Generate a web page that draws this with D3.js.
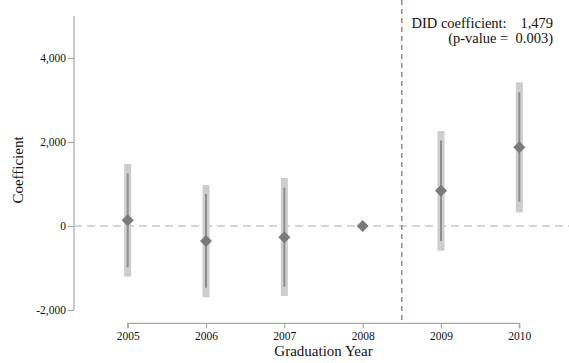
<!DOCTYPE html>
<html>
<head>
<meta charset="utf-8">
<script src="https://cdn.jsdelivr.net/npm/d3@7"></script>
<style>
  html, body { margin: 0; padding: 0; background: #fff; }
  svg { display: block; }
  svg text { font-family: "Liberation Serif", "Times New Roman", serif; }
</style>
</head>
<body>
<svg id="chart" width="569" height="363"></svg>
<script>
// Event-study coefficients by graduation year (2008 is the reference year)
const years = [2005, 2006, 2007, 2008, 2009, 2010];
const coef = [136, -357, -269, 0, 840, 1874];
const ci95Low = [-1207, -1698, -1667, null, -588, 321];
const ci95High = [1476, 976, 1143, null, 2262, 3421];
const ci90Low = [-983, -1469, -1445, null, -357, 579];
const ci90High = [1255, 762, 912, null, 2036, 3183];
const yTicks = [-2000, 0, 2000, 4000];
const didLabel = "DID coefficient:";
const didValue = "1,479";
const pLabel = "(p-value =  0.003)";

const svg = d3.select("#chart");

const x = d3.scaleLinear().domain([2005, 2010]).range([127.7, 519.3]);
const y = d3.scaleLinear().domain([-2000, 4000]).range([310, 58]);

const axisColor = "#a8a8a8";
const fmt = v => d3.format(",")(v).replace("\u2212", "-");

// Y axis
const yAxis = svg.append("g").attr("transform", "translate(74,0)")
  .call(d3.axisLeft(y).tickValues(yTicks).tickSize(6).tickPadding(2).tickFormat(fmt))
  .attr("font-family", "Liberation Serif").attr("font-size", 11.5);
yAxis.select(".domain").remove();
yAxis.append("line").attr("x1", 0).attr("x2", 0)
  .attr("y1", y(-2000)).attr("y2", y(5000))
  .attr("stroke", axisColor).attr("stroke-width", 1.2);
yAxis.selectAll(".tick line").attr("stroke", axisColor).attr("stroke-width", 1.2);
yAxis.selectAll(".tick text").attr("fill", "#111");

// X axis
const xAxis = svg.append("g").attr("transform", "translate(0,323.3)")
  .call(d3.axisBottom(x).tickValues(years).tickSize(5).tickPadding(4).tickFormat(d3.format("d")))
  .attr("font-family", "Liberation Serif").attr("font-size", 11.5);
xAxis.select(".domain").attr("stroke", axisColor).attr("stroke-width", 1.2)
  .attr("d", `M${x(2005)},5V0H${x(2010)}V5`);
xAxis.selectAll(".tick line").attr("stroke", axisColor).attr("stroke-width", 1.2);
xAxis.selectAll(".tick text").attr("fill", "#111");

// Zero reference line
svg.append("line")
  .attr("x1", 74).attr("x2", 569)
  .attr("y1", y(0)).attr("y2", y(0))
  .attr("stroke", "#c8c8c8").attr("stroke-width", 1.3)
  .attr("stroke-dasharray", "8,5");

// Treatment cutoff between 2008 and 2009
svg.append("line")
  .attr("x1", x(2008.5)).attr("x2", x(2008.5))
  .attr("y1", 0).attr("y2", 323)
  .attr("stroke", "#9e4a5a").attr("stroke-width", 1.1)
  .attr("stroke-dasharray", "5,4");

const idx = d3.range(years.length).filter(i => ci95Low[i] !== null);

// 95% intervals: wide light bars
svg.append("g").selectAll("rect").data(idx).join("rect")
  .attr("x", i => x(years[i]) - 3.5)
  .attr("width", 7)
  .attr("y", i => y(ci95High[i]))
  .attr("height", i => y(ci95Low[i]) - y(ci95High[i]))
  .attr("fill", "#cdcdcd");

// 90% intervals: thin darker lines
svg.append("g").selectAll("line").data(idx).join("line")
  .attr("x1", i => x(years[i])).attr("x2", i => x(years[i]))
  .attr("y1", i => y(ci90High[i])).attr("y2", i => y(ci90Low[i]))
  .attr("stroke", "#8f8f8f").attr("stroke-width", 2);

// Point estimates as diamonds
svg.append("g").selectAll("path").data(years).join("path")
  .attr("transform", (d, i) => `translate(${x(d)},${y(coef[i])})`)
  .attr("d", "M0,-6L6,0L0,6L-6,0Z")
  .attr("fill", "#7a7a7a");

// Axis titles
svg.append("text")
  .attr("x", x(2007.5)).attr("y", 356)
  .attr("text-anchor", "middle")
  .style("font-size", "15px").attr("fill", "#111")
  .text("Graduation Year");

svg.append("text")
  .attr("transform", "translate(23,170) rotate(-90)")
  .attr("text-anchor", "middle")
  .style("font-size", "15px").attr("fill", "#111")
  .text("Coefficient");

// DID annotation
const ann = svg.append("g").style("font-size", "14.5px").attr("fill", "#111");
ann.append("text").attr("x", 411.5).attr("y", 28).text(didLabel);
ann.append("text").attr("x", 553).attr("y", 28).attr("text-anchor", "end").text(didValue);
ann.append("text").attr("x", 553).attr("y", 43).attr("text-anchor", "end")
  .style("white-space", "pre").attr("xml:space", "preserve").text(pLabel);
</script>
</body>
</html>
